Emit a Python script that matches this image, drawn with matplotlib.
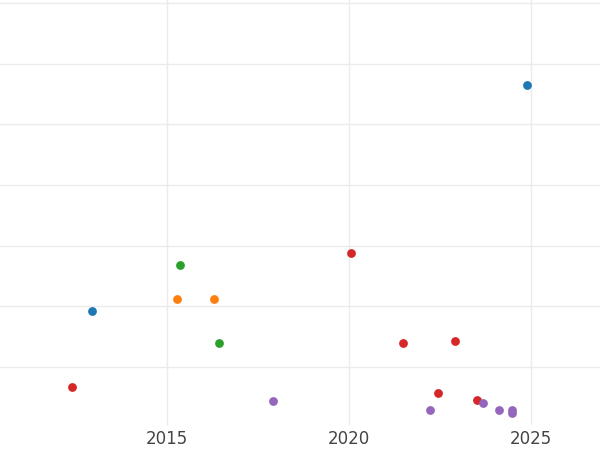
import matplotlib
matplotlib.use("Agg")
import matplotlib.pyplot as plt

blue_x = [2024.89, 2012.94]; blue_y = [5.65, 1.93]
red_x = [2012.39, 2020.05, 2021.48, 2022.91, 2022.45, 2023.52]
red_y = [0.68, 2.88, 1.40, 1.43, 0.58, 0.46]
green_x = [2015.36, 2016.43]; green_y = [2.69, 1.40]
orange_x = [2015.27, 2016.29]; orange_y = [2.13, 2.13]
purple_x = [2017.91, 2022.23, 2023.69, 2024.13, 2024.48, 2024.48]
purple_y = [0.44, 0.30, 0.41, 0.30, 0.30, 0.25]
xticks = [2015, 2020, 2025]

fig = plt.figure(figsize=(6, 4.5), dpi=100)
ax = fig.add_axes([0, 0.056, 1, 0.944])
for xs, ys, c in [(blue_x, blue_y, '#1f77b4'), (red_x, red_y, '#d62728'),
                  (green_x, green_y, '#2ca02c'), (orange_x, orange_y, '#ff7f0e'),
                  (purple_x, purple_y, '#9467bd')]:
    ax.scatter(xs, ys, s=40, color=c, zorder=3, linewidths=0)
ax.set_xlim(2010.41, 2026.9)
ax.set_ylim(0.05, 7.05)
ax.set_xticks(xticks)
ax.set_yticks(range(1, 8))
ax.set_yticklabels([])
ax.grid(True, color='#ebebeb', linewidth=1.0)
for s in ax.spines.values():
    s.set_visible(False)
ax.tick_params(length=0, labelsize=12, labelcolor='#444444', pad=4)
fig.savefig('out.png')
